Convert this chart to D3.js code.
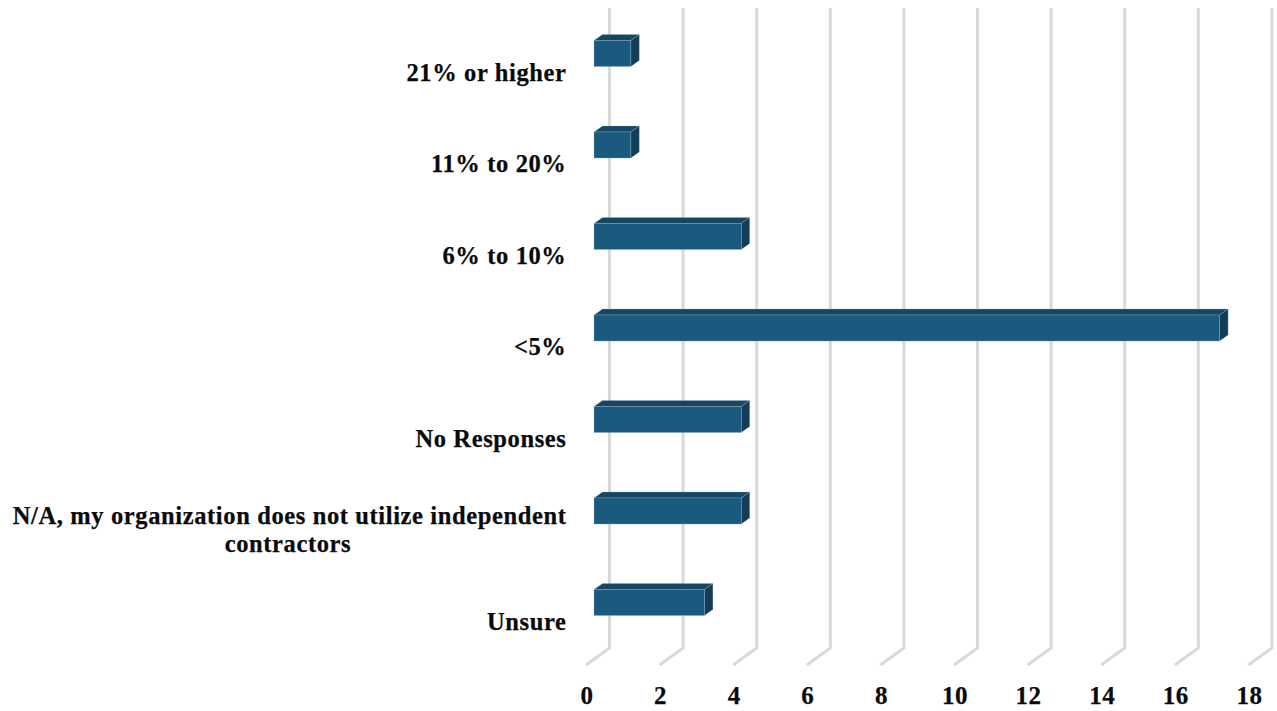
<!DOCTYPE html>
<html lang="en">
<head>
    <meta charset="UTF-8">
    <title>Independent contractors</title>
    <script src="https://d3js.org/d3.v7.min.js"></script>
    <style>
        html, body { margin: 0; padding: 0; background: #fff; }
        svg { display: block; }
        text { font-family: "Liberation Serif", serif; font-weight: bold; fill: #0a0a0a; stroke: #0a0a0a; stroke-width: 0.25px; }
    </style>
</head>
<body>
    <div id="chart"></div>
    <script>
        // Values, top to bottom
        const categories = ["21% or higher", "11% to 20%", "6% to 10%", "<5%", "No Responses",
            "N/A, my organization does not utilize independent contractors", "Unsure"];
        const counts = [1, 1, 4, 17, 4, 4, 3];
        const xTicks = [0, 2, 4, 6, 8, 10, 12, 14, 16, 18];

        const width = 1277, height = 711;

        const x = d3.scaleLinear().domain([0, 18]).range([594, 1256.4]);
        const y = d3.scaleBand().domain(categories).range([7.75, 648.25])
            .paddingInner(0.715).paddingOuter(0.3575);

        const svg = d3.select("#chart").append("svg")
            .attr("width", width)
            .attr("height", height);

        // 3D offsets: walls sit behind the bars, floor runs down to the left
        const wallDx = 15.5, floorDx = -8, floorDy = 17;
        const barDx = 8.5, barDy = -6;
        const gridTop = 8, gridBottom = 648;

        // Gridlines (back wall + floor)
        const grid = svg.append("g").attr("fill", "none").attr("stroke", "#d9d9d9").attr("stroke-width", 3);
        grid.selectAll("path")
            .data(xTicks)
            .join("path")
            .attr("d", d => `M${x(d) + wallDx},${gridTop}V${gridBottom}L${x(d) + floorDx},${gridBottom + floorDy}`);

        // Bars
        const rows = categories.map((c, i) => ({c: c, v: counts[i]}));
        const bars = svg.append("g").selectAll("g")
            .data(rows)
            .join("g");

        const edge = "#9dbbcd";

        // top face
        bars.append("path")
            .attr("fill", "#174663")
            .attr("stroke", edge).attr("stroke-width", 0.5).attr("stroke-opacity", 0.6)
            .attr("d", d => {
                const x0 = x(0), x1 = x(d.v), t = y(d.c);
                return `M${x0},${t}L${x0 + barDx},${t + barDy}H${x1 + barDx}L${x1},${t}Z`;
            });

        // side face
        bars.append("path")
            .attr("fill", "#133c56")
            .attr("stroke", edge).attr("stroke-width", 0.5).attr("stroke-opacity", 0.6)
            .attr("d", d => {
                const x1 = x(d.v), t = y(d.c), b = t + y.bandwidth();
                return `M${x1},${t}L${x1 + barDx},${t + barDy}V${b + barDy}L${x1},${b}Z`;
            });

        // front face
        bars.append("rect")
            .attr("fill", "#1a5a7e")
            .attr("stroke", edge).attr("stroke-width", 0.5).attr("stroke-opacity", 0.6)
            .attr("x", x(0))
            .attr("y", d => y(d.c))
            .attr("width", d => x(d.v) - x(0))
            .attr("height", y.bandwidth());

        // Category labels
        const labelSize = 24.5;
        const labels = svg.append("g").attr("font-size", labelSize).attr("letter-spacing", 0.62);
        const wrapAt = "independent";
        rows.forEach(d => {
            const cy = y(d.c) + y.bandwidth() / 2;
            if (d.c.includes(wrapAt)) {
                const cut = d.c.indexOf(wrapAt) + wrapAt.length;
                labels.append("text").attr("x", 566.5).attr("y", cy + 12.5).attr("text-anchor", "end")
                    .text(d.c.slice(0, cut));
                // second line is centred under the first
                labels.append("text").attr("x", 288).attr("y", cy + 40.5).attr("text-anchor", "middle")
                    .text(d.c.slice(cut + 1));
            } else {
                labels.append("text").attr("x", 566.5).attr("y", cy + 27).attr("text-anchor", "end")
                    .text(d.c);
            }
        });

        // X axis labels
        svg.append("g").attr("font-size", 25).attr("letter-spacing", 0.5)
            .selectAll("text")
            .data(xTicks)
            .join("text")
            .attr("x", d => x(d) - 7)
            .attr("y", 704)
            .attr("text-anchor", "middle")
            .text(d => d);
    </script>
</body>
</html>
